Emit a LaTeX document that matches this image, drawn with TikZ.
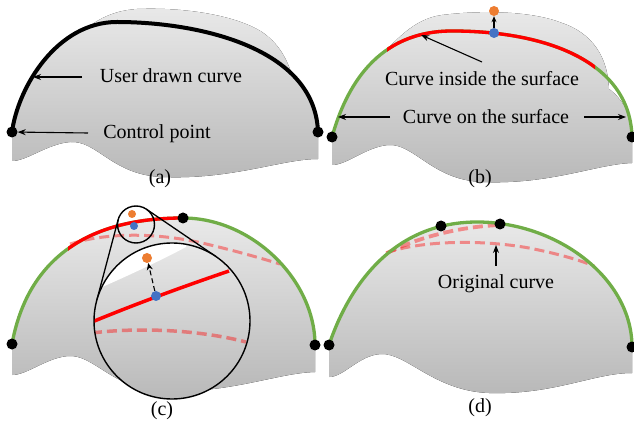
\documentclass[tikz,border=0pt]{standalone}
\usepackage{fontspec}
\setmainfont{Liberation Serif}
\usetikzlibrary{arrows.meta}
\definecolor{cgreen}{HTML}{70AD47}
\definecolor{cblue}{HTML}{4472C4}
\definecolor{corange}{HTML}{ED7D31}
\definecolor{gtop}{RGB}{233,233,233}
\definecolor{gbot}{RGB}{184,184,184}
\begin{document}
\begin{tikzpicture}[x=1pt,y=-1pt,
  surf/.style={top color=gtop,bottom color=gbot,draw=none},
  usercurve/.style={line width=4pt,black},
  gline/.style={line width=3.3pt,cgreen},
  rline/.style={line width=3.3pt,red},
  pinkdash/.style={line width=3pt,red,draw opacity=0.4,dash pattern=on 10pt off 5pt},
  dotk/.style={circle,fill=black,inner sep=0pt,minimum size=11pt},
  doto/.style={circle,fill=corange,inner sep=0pt,minimum size=10pt},
  dotb/.style={circle,fill=cblue,inner sep=0pt,minimum size=10pt},
  lbl/.style={font=\fontsize{20}{24}\selectfont,inner sep=0pt,anchor=base},
  arr/.style={-{Stealth[length=8pt,width=6pt]},line width=1.1pt},
  lens/.style={circle,draw=black,line width=1.4pt,inner sep=0pt}]
\useasboundingbox (0,0) rectangle (634,427);

% ---------------- panel (a)
\begin{scope}[shift={(12,132)}]
\fill[surf] (0,29) -- (0,0) .. controls (4.8,-36) and (30.7,-84.8) .. (71.6,-102.9)
  .. controls (82,-108) and (95,-121) .. (125,-123)
  .. controls (175,-125) and (225,-116) .. (250,-100)
  .. controls (266,-89) and (274,-75) .. (279.7,-58)
  .. controls (295.3,-42.9) and (305.2,-23.8) .. (306,0) -- (306,27)
  .. controls (270,27) and (220,48) .. (150,45)
  .. controls (100,43) and (85,8) .. (58,10)
  .. controls (35,12) and (15,29) .. (0,29) -- cycle;
\draw[usercurve] (0,0) .. controls (6,-45) and (45,-110) .. (105,-110)
  .. controls (185,-110) and (303,-85) .. (306,0);
\end{scope}
\node[dotk] (al) at (12,132) {};
\node[dotk] (ar) at (318,132) {};
\node[lbl] (tuser) at (171,83) {User drawn curve};
\coordinate (uA) at (82,77);
\coordinate (uB) at (33,77);
\draw[arr] (uA) -- (uB);
\node[lbl] (tctrl) at (157,139) {Control point};
\coordinate (cA) at (88,133);
\draw[arr] (cA) -- (al);
\node[lbl] (capa) at (160,184) {(a)};

% ---------------- panel (b)
\begin{scope}[shift={(332,137)}]
\fill[surf] (0,28) -- (0,0) .. controls (8.4,-30) and (22.9,-62.2) .. (49.4,-83.1)
  .. controls (63,-94) and (80,-118) .. (110,-122)
  .. controls (150,-127) and (200,-126) .. (230,-114)
  .. controls (260,-104) and (276,-80) .. (276.9,-48.2)
  .. controls (294,-34.8) and (299.5,-18.8) .. (300,0) -- (300,26)
  .. controls (265,27) and (218,48) .. (150,45)
  .. controls (100,43) and (82,6) .. (56,8)
  .. controls (34,10) and (15,28) .. (0,28) -- cycle;
\draw[gline] (0,0) .. controls (14,-50) and (45,-106) .. (120,-106)
  .. controls (215,-106) and (298,-75) .. (300,0);
\begin{scope}
\clip (55,-140) rectangle (263,-60);
\draw[rline] (0,0) .. controls (14,-50) and (45,-106) .. (120,-106)
  .. controls (215,-106) and (298,-75) .. (300,0);
\end{scope}
\end{scope}
\node[dotk] (bl) at (332,137) {};
\node[dotk] (br) at (632,137) {};
\node[dotb] (bb) at (494,33) {};
\node[doto] (bo) at (494,11) {};
\draw[line width=1.1pt,-{Stealth[length=6pt,width=5pt]}] (bb) -- (bo);
\node[lbl] (tin) at (482,86) {Curve inside the surface};
\coordinate (iA) at (482,62);
\coordinate (iB) at (421,35);
\draw[arr] (iA) -- (iB);
\node[lbl] (ton) at (486,124) {Curve on the surface};
\coordinate (oA) at (390,117);
\coordinate (oB) at (338,117);
\coordinate (oC) at (584,117);
\coordinate (oD) at (626,117);
\draw[arr] (oA) -- (oB);
\draw[arr] (oC) -- (oD);
\node[lbl] (capb) at (480,184) {(b)};

% ---------------- panel (c)
\begin{scope}[shift={(12,344)}]
\fill[surf] (0,31) -- (0,0) .. controls (10,-55) and (45,-126) .. (171,-126)
  .. controls (240,-126) and (303,-64) .. (303,1) -- (303,28)
  .. controls (265,29) and (218,50) .. (150,47)
  .. controls (100,45) and (82,10) .. (56,12)
  .. controls (34,14) and (15,31) .. (0,31) -- cycle;
\draw[pinkdash] (58,-100) .. controls (100,-113) and (150,-110) .. (190,-101)
  .. controls (220,-94) and (245,-87) .. (268,-80);
\draw[gline] (0,0) .. controls (10,-55) and (45,-126) .. (171,-126)
  .. controls (240,-126) and (303,-64) .. (303,1);
\begin{scope}
\clip (56,-140) rectangle (171,-80);
\draw[rline] (0,0) .. controls (10,-55) and (45,-126) .. (171,-126);
\end{scope}
\end{scope}
\node[dotk] (cl) at (12,344) {};
\node[dotk] (cm) at (183,218) {};
\node[dotk] (cr) at (315,345) {};
\node[circle,fill=corange,inner sep=0pt,minimum size=8pt] (so) at (132,214) {};
\node[circle,fill=cblue,inner sep=0pt,minimum size=8pt] (sb) at (134,226) {};
\node[lens,minimum size=37pt] (sc) at (136,224.5) {};
\coordinate (t1a) at (118.1,219.8);
\coordinate (t1b) at (96.6,301.0);
\coordinate (t2a) at (146.4,209.2);
\coordinate (t2b) at (215.9,256.5);
\draw[line width=1.3pt] (t1a) -- (t1b);
\draw[line width=1.3pt] (t2a) -- (t2b);
\begin{scope}
\clip (172,321) circle[radius=78pt];
\fill[top color=gtop,bottom color=gbot] (90,240) rectangle (255,402);
\fill[white] (100,288) .. controls (125,277) and (160,261) .. (186,247)
  -- (186,235) -- (85,235) -- (85,288) -- cycle;
\draw[pinkdash,line width=3.5pt] (92,333) .. controls (140,327) and (200,330) .. (246,342);
\draw[rline,line width=3.5pt] (92,322) .. controls (138,303) and (185,286) .. (229,271);
\end{scope}
\node[dotb] (cb) at (156,296) {};
\node[doto] (co) at (147,258) {};
\draw[line width=1.1pt,dash pattern=on 5pt off 3pt,-{Stealth[length=7pt,width=6pt]}] (cb) -- (co);
\node[lens,minimum size=156pt] (bc) at (172,321) {};
\node[lbl] (capc) at (162,415) {(c)};

% ---------------- panel (d)
\begin{scope}[shift={(329,345)}]
\fill[surf] (0,32) -- (0,0) .. controls (12,-36) and (50,-124) .. (150,-123)
  .. controls (230,-122) and (303,-66) .. (303,2) -- (303,28)
  .. controls (265,28) and (225,50) .. (160,48)
  .. controls (105,46) and (78,8) .. (52,9)
  .. controls (30,10) and (15,32) .. (0,32) -- cycle;
\draw[pinkdash] (57,-92) .. controls (90,-104) and (150,-106) .. (200,-97)
  .. controls (225,-92) and (248,-86) .. (265,-79);
\draw[pinkdash,line width=3.8pt] (58,-92) .. controls (90,-108) and (130,-118) .. (170,-120);
\draw[gline] (0,0) .. controls (12,-36) and (50,-124) .. (150,-123)
  .. controls (230,-122) and (303,-66) .. (303,2);
\end{scope}
\node[dotk] (dl) at (329,345) {};
\node[dotk] (dm1) at (441,226) {};
\node[dotk] (dm2) at (500,224) {};
\node[dotk] (dr) at (632,347) {};
\node[lbl] (torig) at (496,289) {Original curve};
\coordinate (gA) at (496,266);
\coordinate (gB) at (496,245);
\draw[arr] (gA) -- (gB);
\node[lbl] (capd) at (480,412) {(d)};
\end{tikzpicture}
\end{document}
